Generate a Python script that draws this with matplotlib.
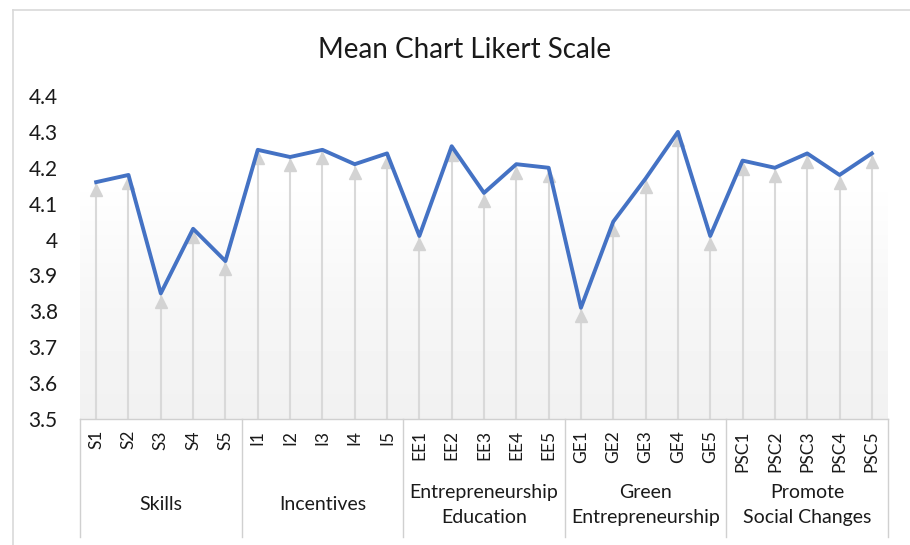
import matplotlib.pyplot as plt
import matplotlib.transforms as mtransforms
from matplotlib.lines import Line2D
import numpy as np

plt.rcParams['font.family'] = ['Lato', 'DejaVu Sans']

items = ['S1', 'S2', 'S3', 'S4', 'S5',
         'I1', 'I2', 'I3', 'I4', 'I5',
         'EE1', 'EE2', 'EE3', 'EE4', 'EE5',
         'GE1', 'GE2', 'GE3', 'GE4', 'GE5',
         'PSC1', 'PSC2', 'PSC3', 'PSC4', 'PSC5']
means = [4.16, 4.18, 3.85, 4.03, 3.94,
         4.25, 4.23, 4.25, 4.21, 4.24,
         4.01, 4.26, 4.13, 4.21, 4.20,
         3.81, 4.05, 4.17, 4.30, 4.01,
         4.22, 4.20, 4.24, 4.18, 4.24]
groups = ['Skills', 'Incentives', 'Entrepreneurship\nEducation',
          'Green\nEntrepreneurship', 'Promote\nSocial Changes']
group_size = 5

W, H = 910, 545
fig = plt.figure(figsize=(W / 100, H / 100), dpi=100)
ax = fig.add_axes([80 / W, 1 - 419 / H, (888 - 80) / W, (419 - 96) / H])

x = np.arange(len(items))
ax.set_xlim(-0.5, len(items) - 0.5)
ax.set_ylim(3.5, 4.4)

# background gradient of the plot area
g = np.concatenate([np.ones(25), np.linspace(1.0, 0.965, 40), np.linspace(0.965, 0.945, 35)])
grad = np.repeat(g[:, None], 2, axis=1)
ax.imshow(grad, extent=[0, 1, 0, 1], transform=ax.transAxes, aspect='auto',
          cmap='gray', vmin=0, vmax=1, zorder=0, interpolation='bilinear')

# drop lines from the axis to each point
ax.vlines(x, 3.5, means, color='#d9d9d9', lw=1.5, zorder=1)
tri_off = mtransforms.offset_copy(ax.transData, fig=fig, x=0, y=-6, units='points')
ax.plot(x, means, ls='none', marker='^', ms=8.5, color='#d3d3d3', transform=tri_off,
        zorder=2, clip_on=False)
ax.plot(x, means, color='#4472c4', lw=2.8, zorder=3)

ax.set_yticks(np.arange(3.5, 4.41, 0.1))
ax.set_yticklabels(['3.5', '3.6', '3.7', '3.8', '3.9', '4', '4.1', '4.2', '4.3', '4.4'])
ax.tick_params(axis='y', length=0, pad=16, labelsize=15)

ax.set_xticks(x)
ax.set_xticklabels(items, rotation=90, va='top', ha='center')
ax.tick_params(axis='x', length=0, pad=8, labelsize=12.5)

for s in ['left', 'right', 'top']:
    ax.spines[s].set_visible(False)
ax.spines['bottom'].set_color('#d0d0d0')
ax.spines['bottom'].set_linewidth(1.0)

# category table below the axis
trans = mtransforms.blended_transform_factory(ax.transData, ax.transAxes)
bot = -(537 - 419) / (419 - 96)
for k in range(len(groups) + 1):
    xb = k * group_size - 0.5
    ax.add_line(Line2D([xb, xb], [0, bot], transform=trans, color='#d0d0d0',
                       lw=1.0, clip_on=False))
for k, name in enumerate(groups):
    xc = k * group_size + (group_size - 1) / 2
    ax.text(xc, -(505 - 419) / (419 - 96), name, transform=trans, ha='center',
            va='center', fontsize=14, linespacing=1.55, color='#1a1a1a')

for lbl in ax.get_xticklabels() + ax.get_yticklabels():
    lbl.set_color('#1a1a1a')

# outer chart frame
fig.add_artist(Line2D([13 / W, 13 / W], [0, 1 - 10 / H], color='#d9d9d9', lw=1.2))
fig.add_artist(Line2D([13 / W, 1], [1 - 10 / H, 1 - 10 / H], color='#d9d9d9', lw=1.2))

fig.text(465 / W, 1 - 50 / H, 'Mean Chart Likert Scale', ha='center', va='center',
         fontsize=20, color='#1a1a1a')

fig.savefig('out.png', dpi=100, facecolor='white')
